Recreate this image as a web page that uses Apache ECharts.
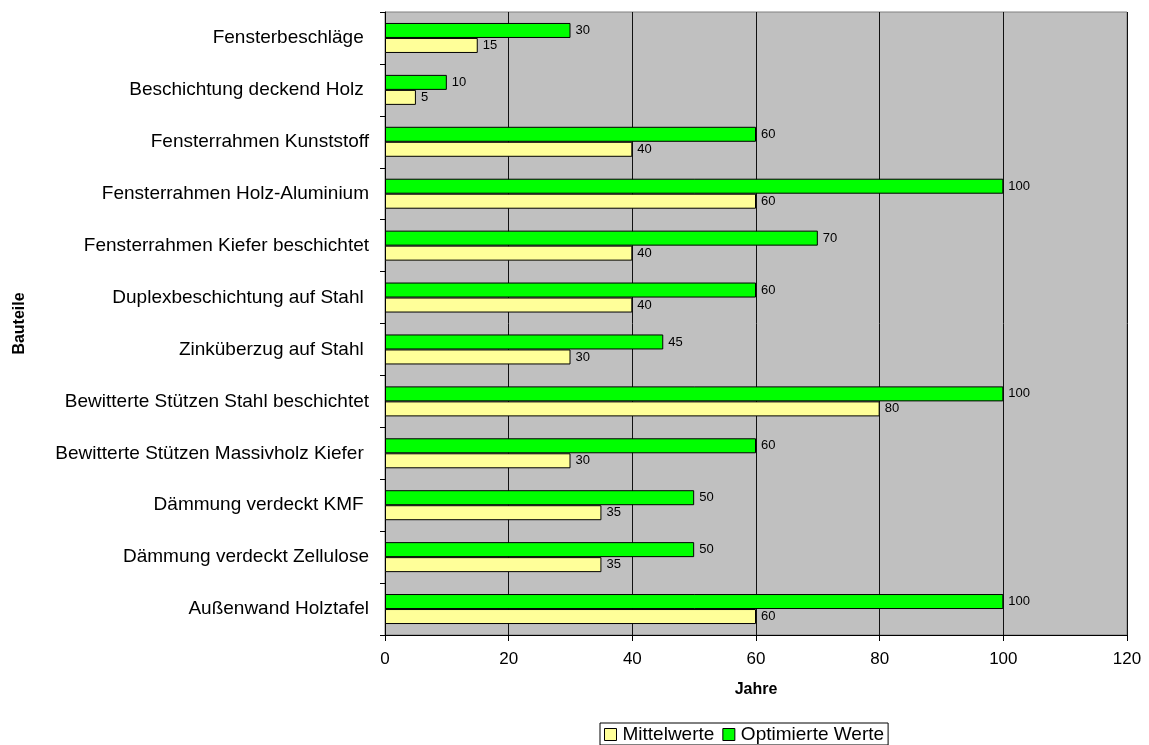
<!DOCTYPE html>
<html>
<head>
<meta charset="utf-8">
<script src="https://cdn.jsdelivr.net/npm/echarts@6/dist/echarts.min.js"></script>
<style>
  html, body { margin: 0; padding: 0; background: #fff; }
  #chart { width: 1149px; height: 745px; }
</style>
</head>
<body>
<div id="chart"></div>
<script>
// Components, listed from top to bottom
const categories = [
  'Fensterbeschläge ',
  'Beschichtung deckend Holz ',
  'Fensterrahmen Kunststoff',
  'Fensterrahmen Holz-Aluminium',
  'Fensterrahmen Kiefer beschichtet',
  'Duplexbeschichtung auf Stahl ',
  'Zinküberzug auf Stahl ',
  'Bewitterte Stützen Stahl beschichtet',
  'Bewitterte Stützen Massivholz Kiefer ',
  'Dämmung verdeckt KMF ',
  'Dämmung verdeckt Zellulose',
  'Außenwand Holztafel'
];
// Service life in years
const mittelwerte = [15, 5, 40, 60, 40, 40, 30, 80, 30, 35, 35, 60];
const optimierteWerte = [30, 10, 60, 100, 70, 60, 45, 100, 60, 50, 50, 100];
const xTicks = [0, 20, 40, 60, 80, 100, 120];

const FONT = 'Liberation Sans, Arial, sans-serif';
const chart = echarts.init(document.getElementById('chart'));

const barLabel = {
  show: true, position: 'right', distance: 5,
  fontFamily: FONT, fontSize: 13, color: '#000'
};

chart.setOption({
  animation: false,
  textStyle: { fontFamily: FONT },
  grid: {
    left: 385, right: 22, top: 12, bottom: 110,
    show: true, backgroundColor: '#c0c0c0', borderColor: '#808080', borderWidth: 1
  },
  legend: {
    bottom: 0, left: 600,
    data: ['Mittelwerte', 'Optimierte Werte'],
    icon: 'rect',
    itemWidth: 12, itemHeight: 12, itemGap: 8,
    padding: [2, 4, 1, 4],
    borderColor: '#000', borderWidth: 1,
    itemStyle: { borderColor: '#000', borderWidth: 1 },
    textStyle: { fontFamily: FONT, fontSize: 19, color: '#000', padding: [0, 0, 0, 1] }
  },
  xAxis: {
    type: 'value', min: xTicks[0], max: xTicks[xTicks.length - 1], interval: 20,
    name: 'Jahre', nameLocation: 'middle', nameGap: 47,
    nameTextStyle: { fontFamily: FONT, fontSize: 16, fontWeight: 'bold', color: '#000' },
    axisLine: { show: true, lineStyle: { color: '#000' } },
    axisTick: { show: true, length: 6, lineStyle: { color: '#000' } },
    axisLabel: { fontFamily: FONT, fontSize: 17, color: '#000', margin: 16 },
    splitLine: { show: true, lineStyle: { color: '#111', width: 1 } }
  },
  yAxis: {
    type: 'category', data: categories, inverse: true,
    name: 'Bauteile', nameLocation: 'middle', nameGap: 357, nameRotate: 90,
    nameTextStyle: { fontFamily: FONT, fontSize: 16, fontWeight: 'bold', color: '#000' },
    axisLine: { show: true, lineStyle: { color: '#000' } },
    axisTick: { show: true, length: 5, lineStyle: { color: '#000' } },
    axisLabel: { fontFamily: FONT, fontSize: 19, color: '#000', margin: 16 },
    splitLine: { show: false }
  },
  series: [
    {
      name: 'Optimierte Werte', type: 'bar', data: optimierteWerte,
      barWidth: 15, barGap: '0%',
      itemStyle: { color: '#00ff00', borderColor: '#000', borderWidth: 1 },
      label: barLabel
    },
    {
      name: 'Mittelwerte', type: 'bar', data: mittelwerte,
      barWidth: 15, barGap: '0%',
      itemStyle: { color: '#ffff99', borderColor: '#000', borderWidth: 1 },
      label: barLabel
    }
  ]
});
</script>
</body>
</html>
